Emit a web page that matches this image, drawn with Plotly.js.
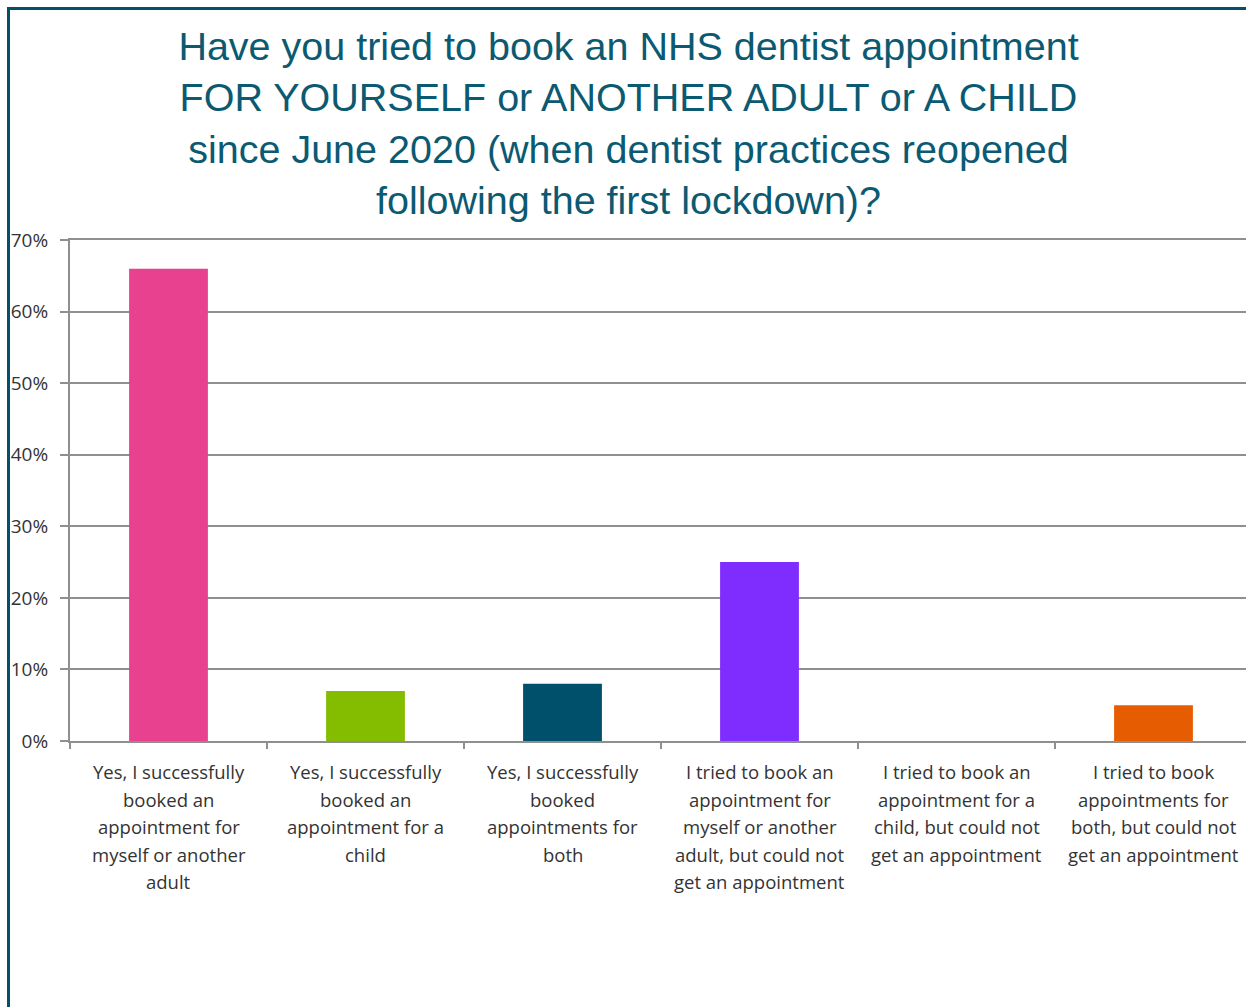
<!DOCTYPE html>
<html>
<head>
<meta charset="utf-8">
<script src="https://cdn.plot.ly/plotly-3.0.1.min.js"></script>
<style>
  html, body { margin: 0; padding: 0; background: #fff; overflow: hidden; }
  #wrap { position: relative; width: 1246px; height: 1007px; overflow: hidden; }
  #chart { position: absolute; left: 0; top: 0; }
  #frame { position: absolute; left: 7px; top: 7px; width: 1300px; height: 1100px;
           border-left: 3px solid #03506a; border-top: 3px solid #03506a; pointer-events: none; }
</style>
</head>
<body>
<div id="wrap">
  <div id="chart"></div>
  <div id="frame"></div>
</div>
<script>
const categories = [
  "Yes, I successfully<br>booked an<br>appointment for<br>myself or another<br>adult",
  "Yes, I successfully<br>booked an<br>appointment for a<br>child",
  "Yes, I successfully<br>booked<br>appointments for<br>both",
  "I tried to book an<br>appointment for<br>myself or another<br>adult, but could not<br>get an appointment",
  "I tried to book an<br>appointment for a<br>child, but could not<br>get an appointment",
  "I tried to book<br>appointments for<br>both, but could not<br>get an appointment"
];
const values = [66, 7, 8, 25, 0, 5];
const barColors = ["#e8418f", "#84bd00", "#004f6b", "#7f2cff", "#c0c0c0", "#e65c00"];
const yTickVals = [0, 10, 20, 30, 40, 50, 60, 70];
const yTickText = ["0%", "10%", "20%", "30%", "40%", "50%", "60%", "70%"];
const titleText = "Have you tried to book an NHS dentist appointment<br>FOR YOURSELF or ANOTHER ADULT or A CHILD<br>since June 2020 (when dentist practices reopened<br>following the first lockdown)?";

const labelFont = { family: "'Open Sans', Lato, sans-serif", size: 18.5, color: "#333333" };
const lineGap = 27.5;

const annotations = [];
categories.forEach((c) => {
  c.split("<br>").forEach((line, li) => {
    annotations.push({
      xref: "x", yref: "paper", x: c, y: 0,
      yanchor: "top", xanchor: "center",
      yshift: -(16 + li * lineGap),
      text: line, showarrow: false, font: labelFont
    });
  });
});

const trace = {
  type: "bar",
  x: categories,
  y: values,
  marker: { color: barColors },
  hoverinfo: "none"
};

const layout = {
  width: 1252, height: 1007,
  margin: { l: 70, r: 0, t: 240, b: 266 },
  paper_bgcolor: "#ffffff",
  plot_bgcolor: "#ffffff",
  bargap: 0.6,
  showlegend: false,
  title: {
    text: titleText,
    font: { family: "'Liberation Sans', Arial, sans-serif", size: 39.5, color: "#0b5a72" },
    xref: "container", x: 0.502,
    yref: "container", y: 1 - 60 / 1007, yanchor: "top"
  },
  xaxis: {
    type: "category",
    showticklabels: false,
    tickson: "boundaries",
    ticks: "outside", ticklen: 6, tickwidth: 2, tickcolor: "#8f8f8f",
    showline: true, mirror: true, linecolor: "#8f8f8f", linewidth: 2,
    showgrid: false, zeroline: false, fixedrange: true
  },
  yaxis: {
    range: [0, 70],
    tickmode: "array",
    tickvals: yTickVals, ticktext: yTickText,
    ticks: "outside", ticklen: 8, tickwidth: 2, tickcolor: "#8f8f8f",
    ticklabelstandoff: 8,
    showline: true, linecolor: "#8f8f8f", linewidth: 2,
    showgrid: true, gridcolor: "#8f8f8f", gridwidth: 2,
    zeroline: false,
    tickfont: { family: "'Open Sans', Lato, sans-serif", size: 19, color: "#333333" },
    fixedrange: true
  },
  annotations: annotations
};

Plotly.newPlot("chart", [trace], layout, { staticPlot: true, displayModeBar: false });
</script>
</body>
</html>
